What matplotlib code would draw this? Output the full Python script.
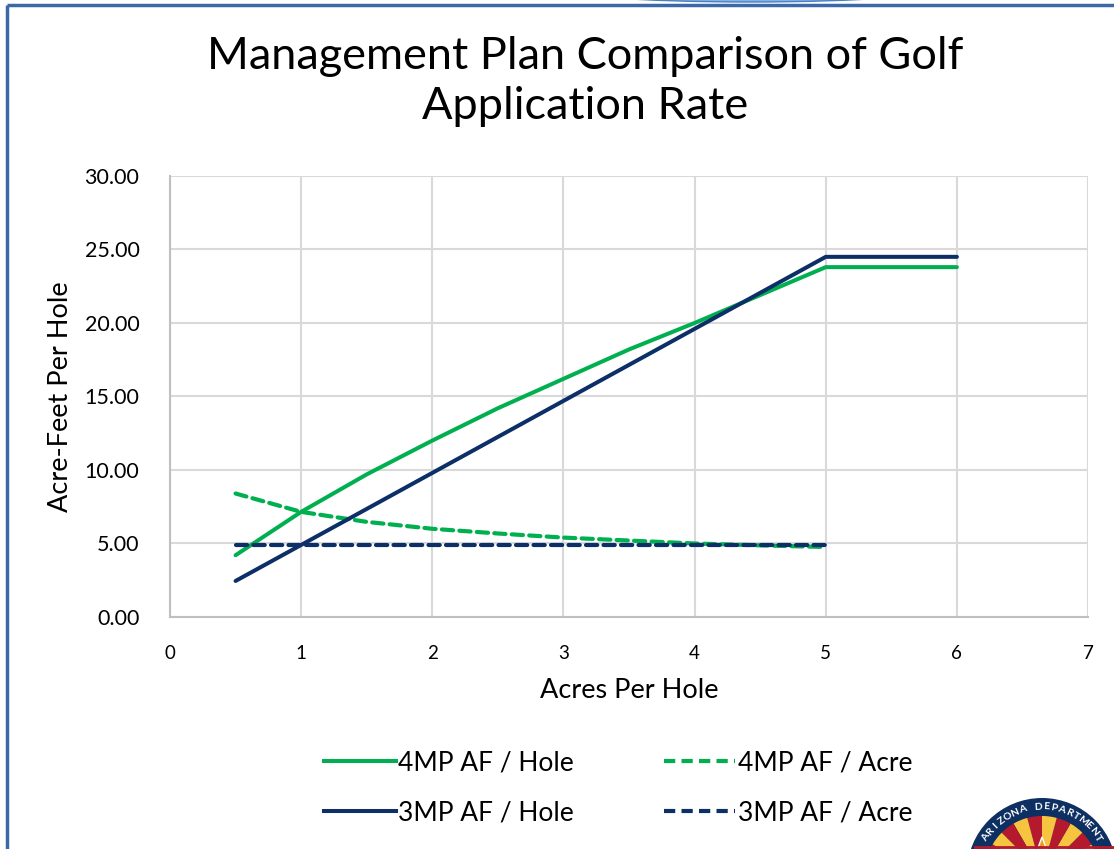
import numpy as np
import matplotlib
matplotlib.use("Agg")
import matplotlib.pyplot as plt
from matplotlib.patches import Wedge, Ellipse, Polygon
from matplotlib.lines import Line2D

plt.rcParams['font.family'] = ['Lato', 'DejaVu Sans']

# Datos
acres = [0.5, 1, 1.5, 2, 2.5, 3, 3.5, 4, 4.5, 5, 6]
af_hole_4mp = [4.2, 7.15, 9.7, 12.0, 14.2, 16.2, 18.2, 20.0, 21.9, 23.8, 23.8]
af_hole_3mp = [2.45, 4.9, 7.35, 9.8, 12.25, 14.7, 17.15, 19.6, 22.05, 24.5, 24.5]

acres_ratio = [0.5, 1, 1.5, 2, 2.5, 3, 3.5, 4, 4.5, 5]
af_acre_4mp = [8.4, 7.15, 6.47, 6.0, 5.68, 5.4, 5.2, 5.0, 4.87, 4.76]
af_acre_3mp = [4.9, 4.9, 4.9, 4.9, 4.9, 4.9, 4.9, 4.9, 4.9, 4.9]

xticks = [0, 1, 2, 3, 4, 5, 6, 7]
yticks = [0, 5, 10, 15, 20, 25, 30]

verde = '#00B050'
azul = '#0B2F66'
gris = '#D9D9D9'

fig = plt.figure(figsize=(11.14, 8.49), dpi=100)

# capa de fondo en píxeles (marco, adorno superior y logo)
bg = fig.add_axes([0, 0, 1, 1], zorder=0)
bg.set_xlim(0, 1114)
bg.set_ylim(0, 849)
bg.axis('off')
bg.add_patch(Ellipse((750, 862), 400, 30, facecolor='#7FB2E8', edgecolor='#4A7FC1', lw=1))
bg.plot([7, 1114], [844, 844], color='#3C68A8', lw=2.5, solid_capstyle='butt')
bg.plot([7, 7], [0, 844], color='#3C68A8', lw=2.5, solid_capstyle='butt')

# logo (aproximado)
cx, cy = 1042, -24
bg.add_patch(Wedge((cx, cy), 78, 0, 180, facecolor='white', edgecolor='none'))
bg.add_patch(Wedge((cx, cy), 75, 0, 180, facecolor='#0E2F62', edgecolor='none'))
n_rayos = 12
for i in range(n_rayos):
    a0 = 180 * i / n_rayos
    a1 = 180 * (i + 1) / n_rayos
    col = '#B5192E' if i % 2 == 0 else '#F7C440'
    bg.add_patch(Wedge((cx, cy), 57, a0, a1, facecolor=col, edgecolor='none'))
ang = np.deg2rad(np.arange(90, 450, 36))
r = np.where(np.arange(10) % 2 == 0, 36, 15)
estrella = np.column_stack([cx + r * np.cos(ang), cy + r * np.sin(ang)])
bg.add_patch(Polygon(estrella, closed=True, facecolor='#F39A1E', edgecolor='white', lw=1))
bg.plot([975, 1114], [2, 2], color='#B5192E', lw=2)
texto = 'ARIZONA DEPARTMENT'
angs = np.linspace(148, 32, len(texto))
for ch, a in zip(texto, angs):
    rad = np.deg2rad(a)
    bg.text(cx + 66 * np.cos(rad), cy + 66 * np.sin(rad), ch, rotation=a - 90,
            ha='center', va='center', color='white', fontsize=7.5, fontweight='bold')

# gráfico principal
ax = fig.add_axes([0.1526, 0.2733, 0.8241, 0.5194], zorder=1)
ax.patch.set_alpha(0)

ax.plot(acres, af_hole_4mp, color=verde, lw=2.9, label='4MP AF / Hole',
        solid_capstyle='round', zorder=3)
ax.plot(acres, af_hole_3mp, color=azul, lw=2.9, label='3MP AF / Hole',
        solid_capstyle='round', zorder=4)
l1, = ax.plot(acres_ratio, af_acre_4mp, color=verde, lw=3.0, label='4MP AF / Acre',
              zorder=3)
l2, = ax.plot(acres_ratio, af_acre_3mp, color=azul, lw=3.0, label='3MP AF / Acre',
              zorder=4)
for l in (l1, l2):
    l.set_dashes((2.7, 1.5))
    l.set_dash_capstyle('round')

ax.set_xlim(0, 7)
ax.set_ylim(0, 30)
ax.set_xticks(xticks)
ax.set_yticks(yticks)
ax.set_xticklabels([str(v) for v in xticks])
ax.set_yticklabels([f'{v:.2f}' for v in yticks])
ax.tick_params(length=0, labelsize=15.5, colors='black')
ax.tick_params(axis='x', pad=20, labelsize=13.5)
ax.tick_params(axis='y', pad=22)
ax.grid(True, color=gris, lw=1.5)
for s in ax.spines.values():
    s.set_visible(False)
ax.spines['left'].set_visible(True)
ax.spines['bottom'].set_visible(True)
ax.spines['left'].set_color('#BFBFBF')
ax.spines['bottom'].set_color('#BFBFBF')
ax.spines['left'].set_linewidth(1.5)
ax.spines['bottom'].set_linewidth(1.5)

ax.set_xlabel('Acres Per Hole', fontsize=19.5, labelpad=12)
ax.set_ylabel('Acre-Feet Per Hole', fontsize=19.5, labelpad=8)

fig.text(0.525, 0.904, 'Management Plan Comparison of Golf\nApplication Rate',
         ha='center', va='center', fontsize=32.5, linespacing=1.3)

handles = [Line2D([], [], color=verde, lw=2.9),
           Line2D([], [], color=azul, lw=2.9),
           Line2D([], [], color=verde, lw=3.0, dashes=(2.7, 1.5)),
           Line2D([], [], color=azul, lw=3.0, dashes=(2.7, 1.5))]
labels = ['4MP AF / Hole', '3MP AF / Hole', '4MP AF / Acre', '3MP AF / Acre']
fig.legend(handles, labels, ncol=2, frameon=False, fontsize=19,
           loc='center', bbox_to_anchor=(0.555, 0.072), handlelength=2.7,
           handletextpad=0.1, columnspacing=3.4, labelspacing=0.95)

fig.savefig('out.png', dpi=100)
